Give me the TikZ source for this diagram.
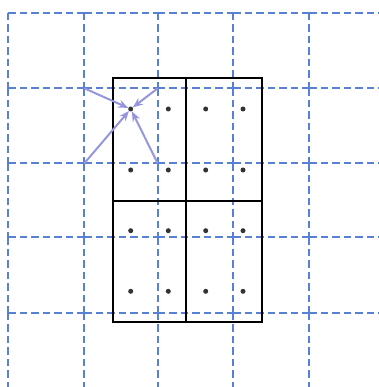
\documentclass[tikz,border=0pt]{standalone}
\usetikzlibrary{arrows.meta}
\definecolor{gridblue}{RGB}{88,128,212}
\definecolor{arrowblue}{RGB}{150,150,222}
\begin{document}
\begin{tikzpicture}[x=1pt,y=-1pt,
  gridline/.style={gridblue,line width=2pt,dash pattern=on 7.5pt off 4pt},
  cell/.style={black,line width=2pt},
  pt/.style={circle,fill=black!80,inner sep=0pt,minimum size=5pt},
  arr/.style={arrowblue,line width=2pt,-{Stealth[length=10pt,width=8pt]}}]
\useasboundingbox (0,0) rectangle (378,387);
% dashed grid
\foreach \x in {8.3,84.3,157.7,233.3,309.3}{
  \foreach \y in {12.7,88.3,163.3,237.3,312.7}{
    \draw[gridline] (\x,\y) -- (\x,\y+75.3);
    \draw[gridline] (\x,\y) -- (\x+75.3,\y);
  }}
% rectangles
\draw[cell] (112.7,78.3) rectangle (261.7,321.7);
\draw[cell] (185.7,78.3) -- (185.7,321.7);
\draw[cell] (112.7,201) -- (261.7,201);
% dots
\foreach \x [count=\i] in {130.7,168.3,205.7,243}{
  \foreach \y [count=\j] in {109,170,230.7,291.3}{
    \node[pt] (d\i\j) at (\x,\y) {};
  }}
% grid points
\coordinate (g11) at (84.3,88.3);
\coordinate (g21) at (157.7,88.3);
\coordinate (g12) at (84.3,163.3);
\coordinate (g22) at (157.7,163.3);
\foreach \g in {g11,g21,g12,g22}{
  \draw[arr] (\g) -- (d11);
}
\end{tikzpicture}
\end{document}
